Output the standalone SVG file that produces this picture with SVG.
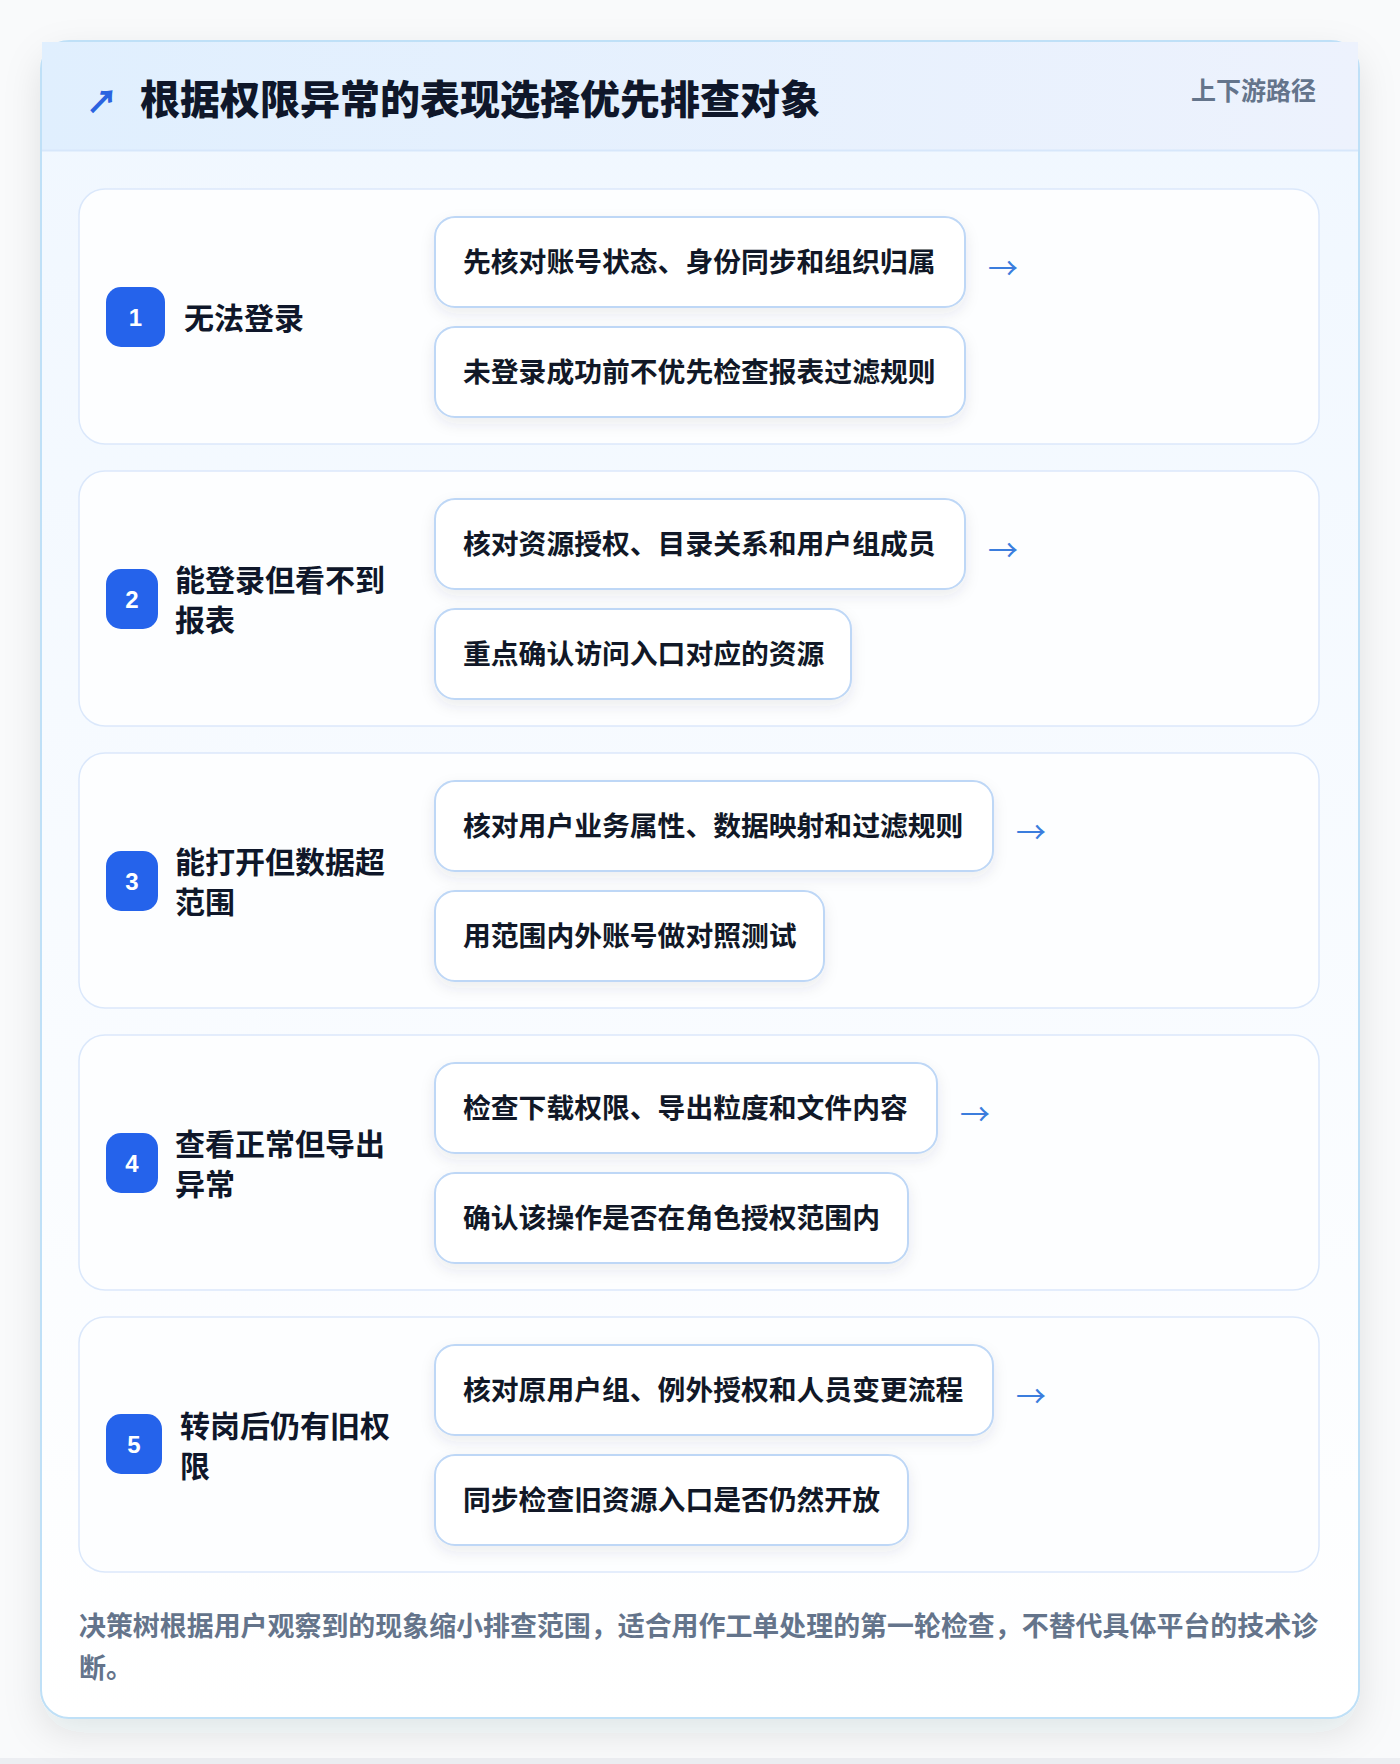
<svg xmlns="http://www.w3.org/2000/svg" width="1400" height="1764" viewBox="0 0 1400 1764">
<defs>
<linearGradient id="hdr" x1="0" y1="0" x2="1" y2="0"><stop offset="0" stop-color="#e0effe"/><stop offset="1" stop-color="#edf2fd"/></linearGradient>
<linearGradient id="body" x1="0" y1="0" x2="0" y2="1"><stop offset="0" stop-color="#f0f7ff"/><stop offset="1" stop-color="#ffffff"/></linearGradient>
<filter id="cardShadow" x="-10%" y="-10%" width="120%" height="120%"><feDropShadow dx="0" dy="14" stdDeviation="18" flood-color="#1e293b" flood-opacity="0.10"/></filter>
<filter id="boxShadow" x="-10%" y="-20%" width="120%" height="160%"><feDropShadow dx="0" dy="6" stdDeviation="7" flood-color="#334155" flood-opacity="0.09"/></filter>
<style>
.row{fill:#fdfeff;stroke:#dbe8fb;stroke-width:1.5}
.box{fill:#ffffff;stroke:#bed7f6;stroke-width:2}
.badge{fill:#2563eb}
.num{font-family:"Liberation Sans","Noto Sans CJK SC",sans-serif;font-weight:700;font-size:24px;fill:#ffffff;text-anchor:middle;dominant-baseline:central}
.lbl{font-family:"Noto Sans CJK SC","Noto Sans",sans-serif;font-weight:700;font-size:30px;fill:#0f172a;dominant-baseline:central}
.bt{font-family:"Noto Sans CJK SC","Noto Sans",sans-serif;font-weight:700;font-size:27.8px;fill:#111827;dominant-baseline:central}
.arr{font-family:"Noto Sans CJK SC",sans-serif;font-weight:400;font-size:30px;fill:#3b7ddd;dominant-baseline:central}
.foot{font-family:"Noto Sans CJK SC","Noto Sans",sans-serif;font-weight:700;font-size:27px;fill:#64748b;dominant-baseline:central}
</style>
</defs>
<rect x="0" y="0" width="1400" height="1764" fill="#f9fafb"/>
<rect x="0" y="1758" width="1400" height="6" fill="#eceef2"/>
<g id="card">
<rect x="41" y="41" width="1318" height="1677" rx="28" fill="url(#body)" stroke="#bfe0f7" stroke-width="2" filter="url(#cardShadow)"/>
<rect x="42" y="42" width="1316" height="108" fill="url(#hdr)"/>
<line x1="42" y1="150.5" x2="1358" y2="150.5" stroke="#d7e7fb" stroke-width="2"/>
<text x="86" y="99" font-family="Noto Sans CJK SC, DejaVu Sans, sans-serif" font-size="32" font-weight="900" fill="#2b63e0" dominant-baseline="central">↗</text>
<text x="140" y="97" font-family="Noto Sans CJK SC, sans-serif" font-size="40" font-weight="900" fill="#0f172a" dominant-baseline="central">根据权限异常的表现选择优先排查对象</text>
<text x="1316" y="89" font-family="Noto Sans CJK SC, sans-serif" font-size="25" font-weight="700" fill="#64748b" text-anchor="end" dominant-baseline="central">上下游路径</text>
</g>
<g id="row1">
<rect class="row" x="79" y="189" width="1240" height="255" rx="26"/>
<rect class="badge" x="106" y="287" width="59" height="60" rx="15"/>
<text class="num" x="135.5" y="317">1</text>
<text class="lbl" x="184" y="316">无法登录</text>
<rect class="box" x="435" y="217" width="530" height="90" rx="20" filter="url(#boxShadow)"/>
<text class="bt" x="463" y="260">先核对账号状态、身份同步和组织归属</text>
<rect class="box" x="435" y="327" width="530" height="90" rx="20" filter="url(#boxShadow)"/>
<text class="bt" x="463" y="370">未登录成功前不优先检查报表过滤规则</text>
</g>
<g id="row2">
<rect class="row" x="79" y="471" width="1240" height="255" rx="26"/>
<rect class="badge" x="106" y="569" width="52" height="60" rx="15"/>
<text class="num" x="132" y="599">2</text>
<text class="lbl" x="175" y="578">能登录但看不到</text>
<text class="lbl" x="175" y="618">报表</text>
<rect class="box" x="435" y="499" width="530" height="90" rx="20" filter="url(#boxShadow)"/>
<text class="bt" x="463" y="542">核对资源授权、目录关系和用户组成员</text>
<rect class="box" x="435" y="609" width="416" height="90" rx="20" filter="url(#boxShadow)"/>
<text class="bt" x="463" y="652">重点确认访问入口对应的资源</text>
</g>
<g id="row3">
<rect class="row" x="79" y="753" width="1240" height="255" rx="26"/>
<rect class="badge" x="106" y="851" width="52" height="60" rx="15"/>
<text class="num" x="132" y="881">3</text>
<text class="lbl" x="175" y="860">能打开但数据超</text>
<text class="lbl" x="175" y="900">范围</text>
<rect class="box" x="435" y="781" width="558" height="90" rx="20" filter="url(#boxShadow)"/>
<text class="bt" x="463" y="824">核对用户业务属性、数据映射和过滤规则</text>
<rect class="box" x="435" y="891" width="389" height="90" rx="20" filter="url(#boxShadow)"/>
<text class="bt" x="463" y="934">用范围内外账号做对照测试</text>
</g>
<g id="row4">
<rect class="row" x="79" y="1035" width="1240" height="255" rx="26"/>
<rect class="badge" x="106" y="1133" width="52" height="60" rx="15"/>
<text class="num" x="132" y="1163">4</text>
<text class="lbl" x="175" y="1142">查看正常但导出</text>
<text class="lbl" x="175" y="1182">异常</text>
<rect class="box" x="435" y="1063" width="502" height="90" rx="20" filter="url(#boxShadow)"/>
<text class="bt" x="463" y="1106">检查下载权限、导出粒度和文件内容</text>
<rect class="box" x="435" y="1173" width="473" height="90" rx="20" filter="url(#boxShadow)"/>
<text class="bt" x="463" y="1216">确认该操作是否在角色授权范围内</text>
</g>
<g id="row5">
<rect class="row" x="79" y="1317" width="1240" height="255" rx="26"/>
<rect class="badge" x="106" y="1414" width="56" height="60" rx="15"/>
<text class="num" x="134" y="1444">5</text>
<text class="lbl" x="180" y="1424">转岗后仍有旧权</text>
<text class="lbl" x="180" y="1464">限</text>
<rect class="box" x="435" y="1345" width="558" height="90" rx="20" filter="url(#boxShadow)"/>
<text class="bt" x="463" y="1388">核对原用户组、例外授权和人员变更流程</text>
<rect class="box" x="435" y="1455" width="473" height="90" rx="20" filter="url(#boxShadow)"/>
<text class="bt" x="463" y="1498">同步检查旧资源入口是否仍然开放</text>
</g>
<g id="connectors">
<text class="arr" x="988" y="266">→</text>
<text class="arr" x="988" y="548">→</text>
<text class="arr" x="1016" y="830">→</text>
<text class="arr" x="960" y="1112">→</text>
<text class="arr" x="1016" y="1394">→</text>
</g>
<g id="footer">
<text class="foot" x="79" y="1624" textLength="1239" lengthAdjust="spacingAndGlyphs">决策树根据用户观察到的现象缩小排查范围，适合用作工单处理的第一轮检查，不替代具体平台的技术诊</text>
<text class="foot" x="79" y="1666">断。</text>
</g>
</svg>
